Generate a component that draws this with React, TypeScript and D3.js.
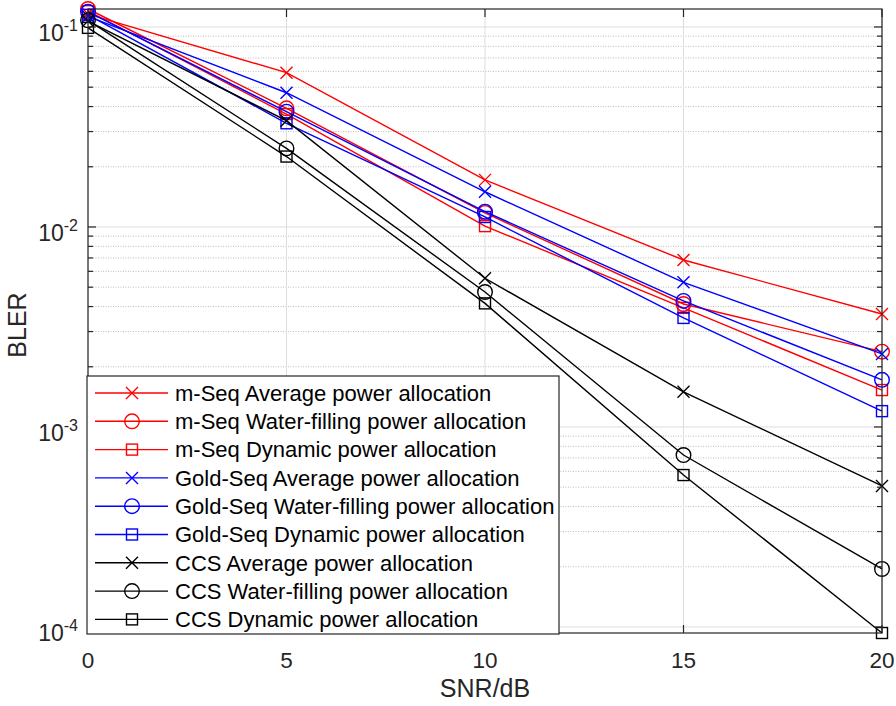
import React from "react";
import * as d3 from "d3";

const snr = [0, 5, 10, 15, 20];
const mAvg = [0.116, 0.0591, 0.0172, 0.00684, 0.00367];
const mWF = [0.123, 0.0392, 0.01175, 0.00412, 0.00238];
const mDyn = [0.12, 0.0367, 0.0101, 0.00394, 0.00153];
const gAvg = [0.113, 0.0469, 0.0150, 0.00529, 0.00232];
const gWF = [0.119, 0.0377, 0.01193, 0.00427, 0.00172];
const gDyn = [0.115, 0.033, 0.01122, 0.00351, 0.0012];
const cAvg = [0.107, 0.034, 0.00554, 0.0015, 0.000507];
const cWF = [0.108, 0.0247, 0.00473, 0.000724, 0.000195];
const cDyn = [0.099, 0.0225, 0.00415, 0.000575, 0.0000933];

const seriesNames = [
  "m-Seq Average power allocation",
  "m-Seq Water-filling power allocation",
  "m-Seq Dynamic power allocation",
  "Gold-Seq Average power allocation",
  "Gold-Seq Water-filling power allocation",
  "Gold-Seq Dynamic power allocation",
  "CCS Average power allocation",
  "CCS Water-filling power allocation",
  "CCS Dynamic power allocation",
];
const seriesValues = [mAvg, mWF, mDyn, gAvg, gWF, gDyn, cAvg, cWF, cDyn];
const seriesColors = ["#ff0000", "#ff0000", "#ff0000", "#0000ff", "#0000ff", "#0000ff", "#000000", "#000000", "#000000"];
const seriesMarkers = ["x", "o", "s", "x", "o", "s", "x", "o", "s"];

const xTicks = [0, 5, 10, 15, 20];
const yMajor = [-4, -3, -2, -1];

const W = 896, H = 706;
const L = 88, R = 882, T = 9, B = 633;
const FONT = "Liberation Sans, Arial, Helvetica, sans-serif";

function Marker({ type, x, y, color }: { type: string; x: number; y: number; color: string }) {
  if (type === "x") {
    const s = 6;
    return (
      <path d={`M${x - s},${y - s}L${x + s},${y + s}M${x - s},${y + s}L${x + s},${y - s}`} stroke={color} strokeWidth={1.4} fill="none" />
    );
  }
  if (type === "o") return <circle cx={x} cy={y} r={7.3} stroke={color} strokeWidth={1.4} fill="none" />;
  return <rect x={x - 5.5} y={y - 5.5} width={11} height={11} stroke={color} strokeWidth={1.4} fill="none" />;
}

export default function App() {
  const x = d3.scaleLinear().domain([0, 20]).range([L, R]);
  const y = d3.scaleLog().domain([9.33e-5, 0.123]).range([B, T]);
  const line = d3.line<[number, number]>().x((d) => x(d[0])).y((d) => y(d[1]));

  const minor: number[] = [];
  for (let d = -5; d <= -1; d++) {
    for (let k = 2; k <= 9; k++) {
      const v = k * Math.pow(10, d);
      if (v >= 9.33e-5 && v <= 0.123) minor.push(v);
    }
  }

  const legX = 87, legY = 376, legW = 472, legH = 258;
  const rowH = 28.3;

  return (
    <svg width={W} height={H} style={{ position: "absolute", left: 0, top: 0, background: "#fff" }} fontFamily={FONT}>
      <rect x={0} y={0} width={W} height={H} fill="#fff" />
      {minor.map((v, i) => (
        <line key={"mg" + i} x1={L} x2={R} y1={y(v)} y2={y(v)} stroke="#bdbdbd" strokeWidth={1} strokeDasharray="1,1.5" />
      ))}
      {yMajor.map((e) => (
        <line key={"yg" + e} x1={L} x2={R} y1={y(Math.pow(10, e))} y2={y(Math.pow(10, e))} stroke="#dedede" strokeWidth={1} />
      ))}
      {xTicks.map((t) => (
        <line key={"xg" + t} x1={x(t)} x2={x(t)} y1={T} y2={B} stroke="#dedede" strokeWidth={1} />
      ))}
      {seriesValues.map((vals, si) => (
        <g key={"s" + si}>
          <path d={line(vals.map((v, i) => [snr[i], v] as [number, number])) || ""} stroke={seriesColors[si]} strokeWidth={1.4} fill="none" />
          {vals.map((v, i) => (
            <Marker key={i} type={seriesMarkers[si]} x={x(snr[i])} y={y(v)} color={seriesColors[si]} />
          ))}
        </g>
      ))}
      <rect x={L} y={T} width={R - L} height={B - T} fill="none" stroke="#262626" strokeWidth={1.2} />
      {xTicks.map((t) => (
        <g key={"xt" + t}>
          <line x1={x(t)} x2={x(t)} y1={B} y2={B - 8} stroke="#262626" strokeWidth={1.2} />
          <line x1={x(t)} x2={x(t)} y1={T} y2={T + 8} stroke="#262626" strokeWidth={1.2} />
          <text x={x(t)} y={B + 35} textAnchor="middle" fontSize={22.5} fill="#262626">{t}</text>
        </g>
      ))}
      {yMajor.map((e) => {
        const yy = y(Math.pow(10, e));
        return (
          <g key={"yt" + e}>
            <line x1={L} x2={L + 8} y1={yy} y2={yy} stroke="#262626" strokeWidth={1.2} />
            <line x1={R} x2={R - 8} y1={yy} y2={yy} stroke="#262626" strokeWidth={1.2} />
            <text x={78} y={yy + 14} textAnchor="end" fontSize={23} fill="#262626">
              10<tspan fontSize={16} dy={-10}>{e}</tspan>
            </text>
          </g>
        );
      })}
      {minor.map((v, i) => (
        <g key={"mt" + i}>
          <line x1={L} x2={L + 5} y1={y(v)} y2={y(v)} stroke="#262626" strokeWidth={1.2} />
          <line x1={R} x2={R - 5} y1={y(v)} y2={y(v)} stroke="#262626" strokeWidth={1.2} />
        </g>
      ))}
      <text x={(L + R) / 2} y={697} textAnchor="middle" fontSize={25} fill="#262626">SNR/dB</text>
      <text transform={`translate(26,${(T + B) / 2 + 4}) rotate(-90)`} textAnchor="middle" fontSize={25} fill="#262626">BLER</text>
      <rect x={legX} y={legY} width={legW} height={legH} fill="#fff" stroke="#262626" strokeWidth={1.2} />
      {seriesNames.map((n, i) => {
        const ry = legY + 17 + i * rowH;
        return (
          <g key={"lg" + i}>
            <line x1={95} x2={168} y1={ry} y2={ry} stroke={seriesColors[i]} strokeWidth={1.4} />
            <Marker type={seriesMarkers[i]} x={132} y={ry} color={seriesColors[i]} />
            <text x={175} y={ry + 7.7} fontSize={22} fill="#000">{n}</text>
          </g>
        );
      })}
    </svg>
  );
}
